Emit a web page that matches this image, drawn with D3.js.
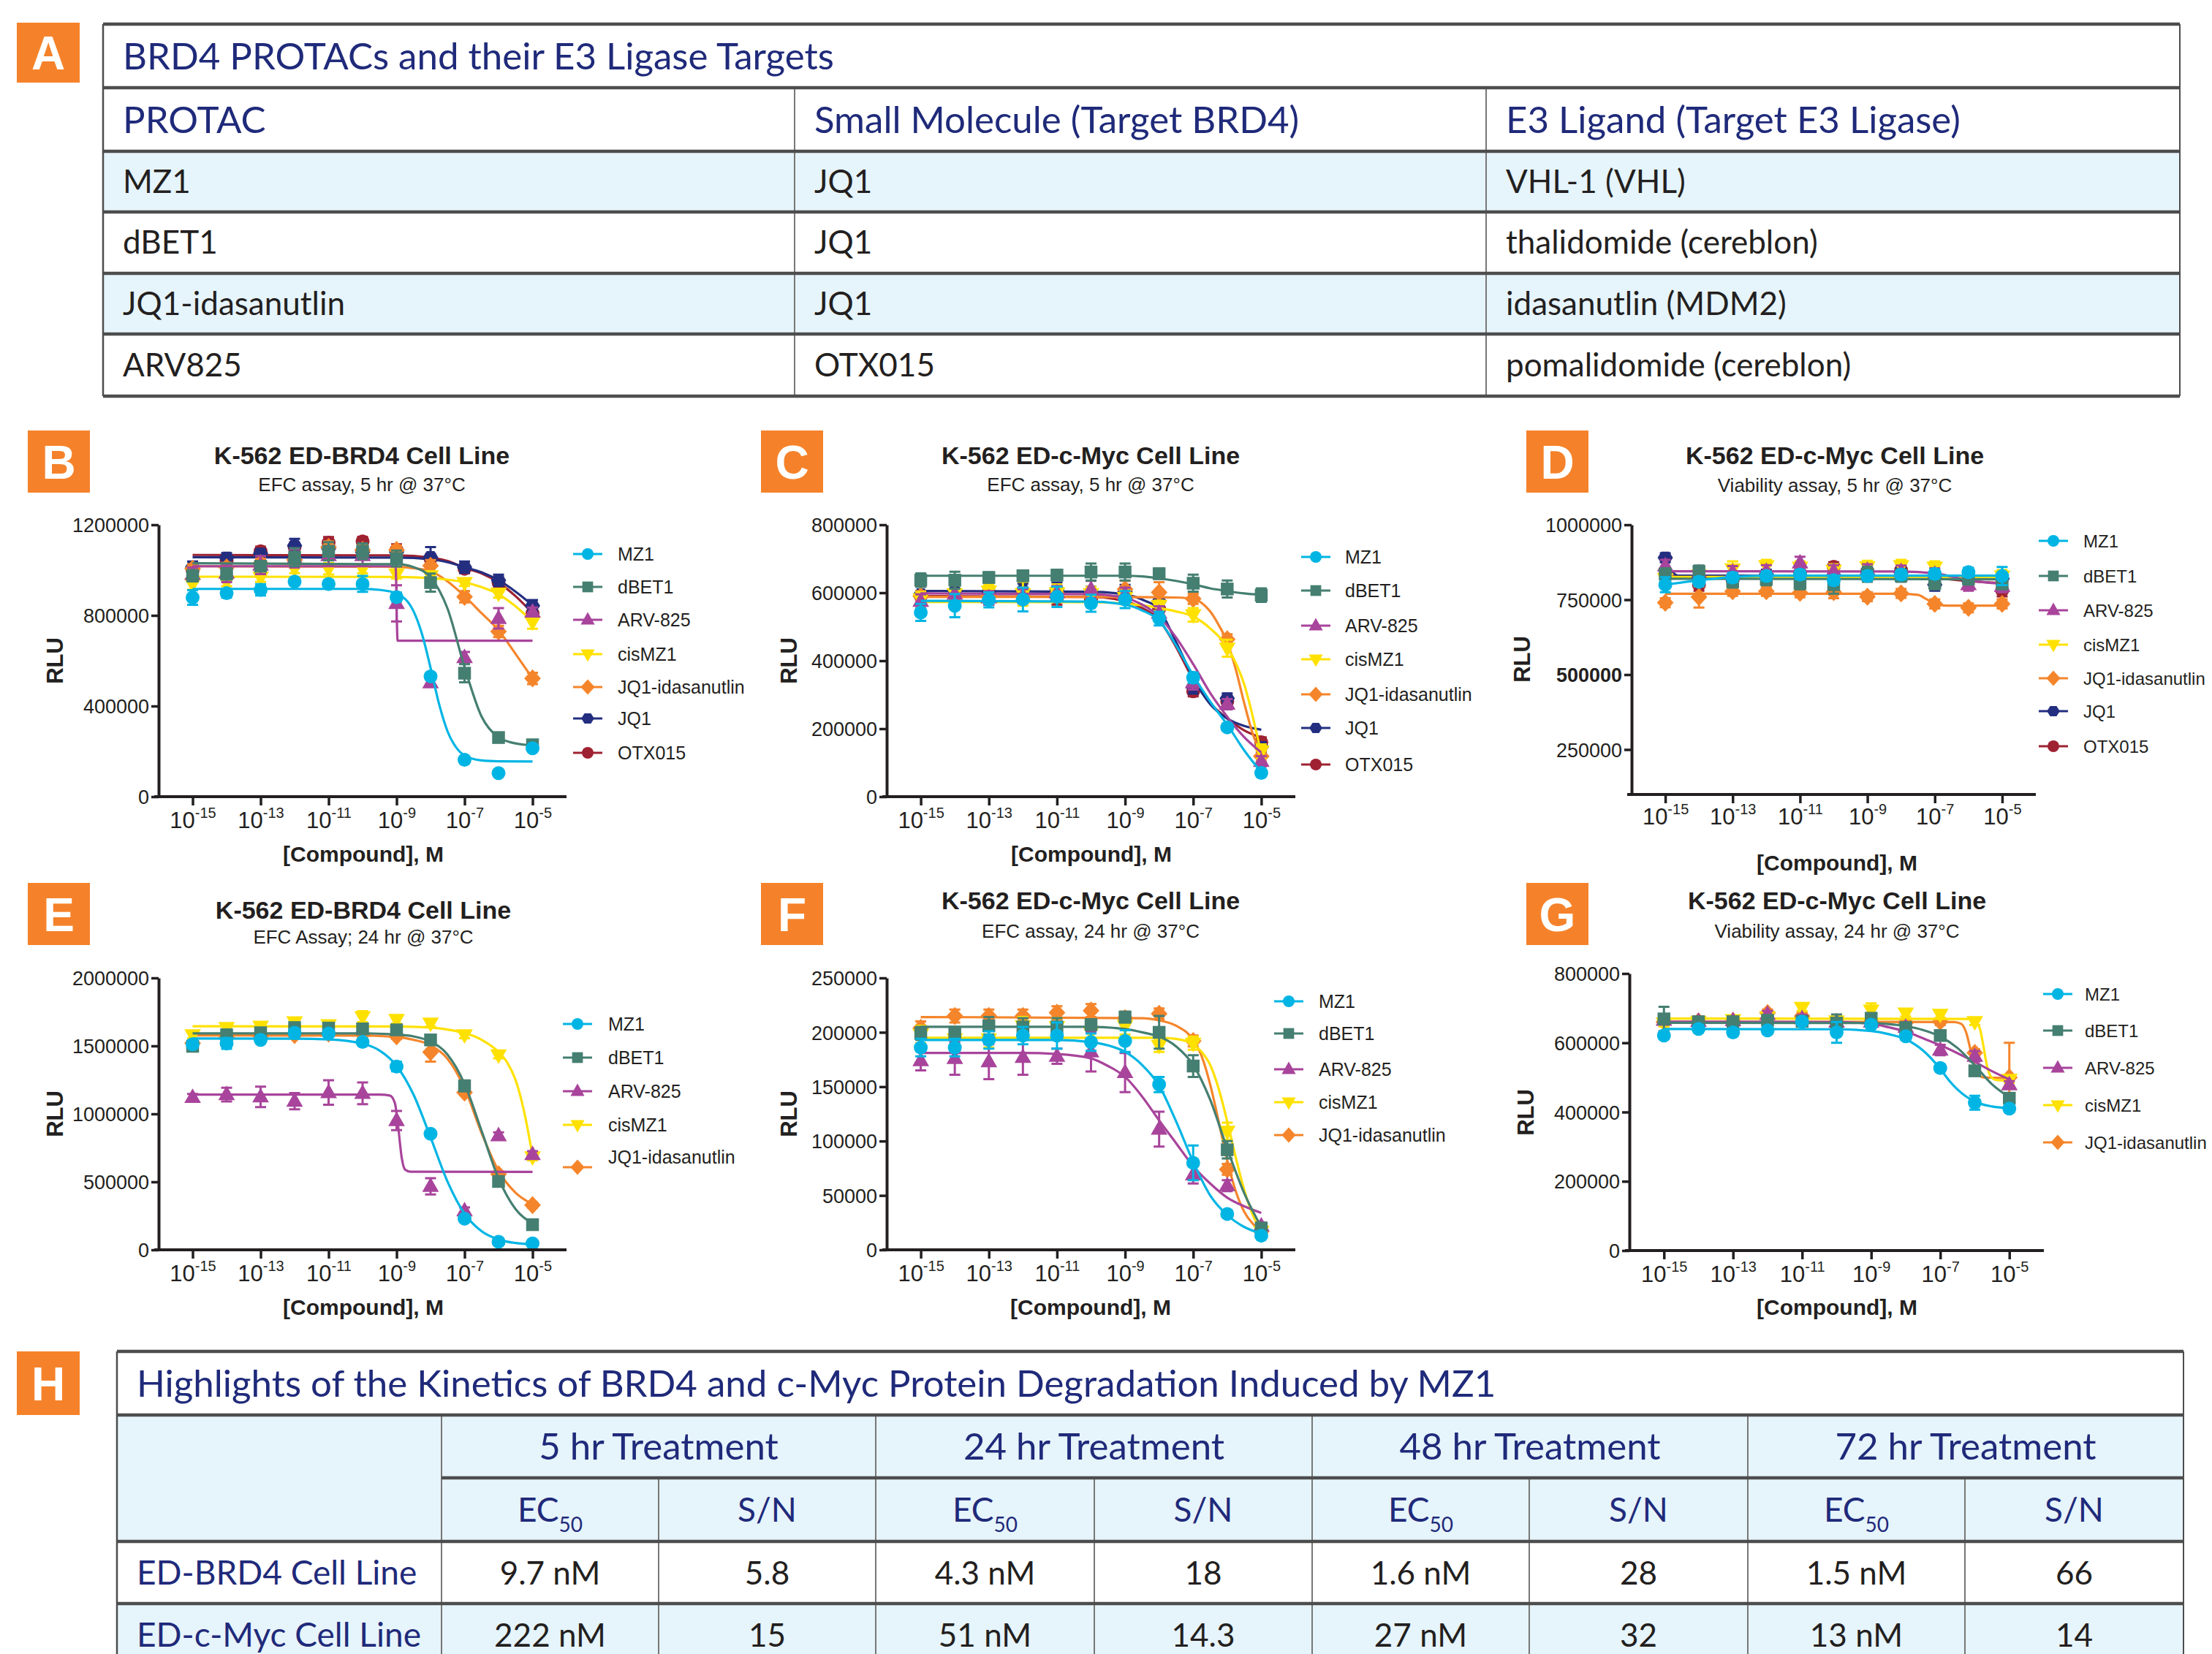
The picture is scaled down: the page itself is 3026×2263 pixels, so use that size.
<!DOCTYPE html>
<html>
<head>
<meta charset="utf-8">
<script src="https://cdn.jsdelivr.net/npm/d3@7"></script>
<style>
html,body{margin:0;padding:0;background:#fff;}
svg{display:block;}
</style>
</head>
<body>
<svg id="fig" width="3026" height="2263" xmlns="http://www.w3.org/2000/svg"></svg>
<script>
// ================= DATA =================
// concentrations as log10(M)
const logConc = [-15,-14,-13,-12,-11,-10,-9,-8,-7,-6,-5];
const xTickExps = [-15,-13,-11,-9,-7,-5];
const xTickSup = ["-15","-13","-11","-9","-7","-5"];

const seriesNames = ["MZ1","dBET1","ARV-825","cisMZ1","JQ1-idasanutlin","JQ1","OTX015"];
const seriesColors = ["#00b5e4","#457f71","#a8449b","#ffe100","#f5852b","#242e80","#9f2232"];
const seriesShapes = ["circle","square","triangle","triangleDown","diamond","hexagon","circle"];

// ---- Panel B : ED-BRD4, EFC, 5 hr (values in thousands RLU) ----
const bMean = [
  [879,898,913,949,939,939,881,531,163,104,214],
  [975,983,1017,1057,1083,1083,1051,945,545,261,229],
  [981,987,1022,1051,1064,1064,853,503,614,787,815],
  [939,949,968,1006,1006,1006,983,975,945,898,771],
  [1006,1012,1030,1045,1102,1089,1089,1019,882,729,522],
  [1013,1055,1073,1108,1095,1080,1080,1057,1013,955,843],
  [1000,1040,1083,1102,1121,1127,1089,1051,1006,945,809]
];
const bErr = [
  [32,20,25,15,15,35,20,15,10,5,10],
  [25,25,20,40,40,35,35,40,40,15,15],
  [30,40,40,40,40,40,80,15,25,45,20],
  [25,20,20,20,25,20,20,20,15,20,30],
  [20,20,20,20,25,20,20,25,25,25,25],
  [25,20,20,30,30,30,25,45,25,25,25],
  [20,20,20,20,25,20,25,20,20,25,25]
];
const bFit = [
  [[-15,917],[-10,917],[-9.5,913],[-9,897],[-8.5,818],[-8.25,717],[-8,569],[-7.75,409],[-7.5,288],[-7.25,218],[-7,182],[-6.5,160],[-6,156],[-5,155]],
  [[-15,1030],[-9,1026],[-8.5,1013],[-8,968],[-7.5,830],[-7,572],[-6.5,354],[-6,262],[-5.5,235],[-5,227]],
  [[-15,1017],[-9.03,1017],[-8.97,688],[-5,688]],
  [[-15,971],[-9,970],[-8,965],[-7.5,958],[-7,946],[-6.5,925],[-6,893],[-5.5,840],[-5,772]],
  [[-15,1017],[-9,1015],[-8.5,1008],[-8,995],[-7.5,950],[-7,885],[-6.5,810],[-6,735],[-5.5,630],[-5,522]],
  [[-15,1057],[-9,1055],[-8,1048],[-7.5,1035],[-7,1013],[-6.5,990],[-6,955],[-5.5,905],[-5,845]],
  [[-15,1067],[-9,1065],[-8,1055],[-7.5,1040],[-7,1010],[-6.5,985],[-6,945],[-5.5,885],[-5,810]]
];
const bTicks = [0,400,800,1200];
const bTickLabels = ["0","400000","800000","1200000"];

// ---- Panel C : ED-c-Myc, EFC, 5 hr ----
const cMean = [
  [542,562,579,580,588,569,580,524,350,204,70],
  [637,637,645,650,652,661,661,656,628,611,593],
  [575,596,585,590,600,610,595,540,335,272,104],
  [582,597,605,597,600,597,586,562,535,437,134],
  [590,588,592,595,598,590,610,601,582,463,119],
  [595,605,603,607,610,598,603,575,323,289,146],
  [590,593,585,590,585,580,590,552,310,280,160]
];
const cErr = [
  [25,34,22,35,30,25,25,20,15,10,10],
  [20,25,15,15,15,25,25,15,25,25,20],
  [20,35,20,20,20,25,20,20,20,15,15],
  [20,25,20,35,25,20,20,15,20,25,20],
  [15,15,20,20,20,20,25,30,15,15,15],
  [30,20,25,20,20,20,20,20,20,15,15],
  [15,15,20,20,20,20,20,20,15,15,15]
];
const cFit = [
  [[-15,576],[-10,574],[-9,565],[-8.5,548],[-8,518],[-7.5,445],[-7,357],[-6.5,280],[-6,212],[-5.5,136],[-5,72]],
  [[-15,650],[-9,650],[-8.5,648],[-8,642],[-7.5,635],[-7,625],[-6.5,613],[-6,605],[-5.5,598],[-5,594]],
  [[-15,598],[-10,596],[-9,585],[-8.5,565],[-8,530],[-7.5,468],[-7,390],[-6.5,305],[-6,235],[-5.5,175],[-5,130]],
  [[-15,573],[-10,572],[-9,568],[-8.5,563],[-8,555],[-7.5,545],[-7,530],[-6.5,495],[-6,440],[-5.5,330],[-5,125]],
  [[-15,588],[-8,587],[-7.5,586],[-7,582],[-6.75,570],[-6.5,545],[-6.25,505],[-6,455],[-5.75,375],[-5.5,275],[-5.25,185],[-5,125]],
  [[-15,605],[-10,603],[-9,595],[-8.5,580],[-8,550],[-7.5,455],[-7,350],[-6.5,272],[-6,230],[-5.5,208],[-5,197]],
  [[-15,590],[-10,588],[-9,575],[-8.5,555],[-8,520],[-7.5,440],[-7,345],[-6.5,275],[-6,230],[-5.5,195],[-5,174]]
];
const cTicks = [0,200,400,600,800];
const cTickLabels = ["0","200000","400000","600000","800000"];

// ---- Panel D : ED-c-Myc, viability, 5 hr ----
const dMean = [
  [800,810,824,829,834,815,829,834,836,842,829],
  [835,844,810,818,805,800,835,830,805,820,805],
  [863,840,842,845,873,845,848,844,835,800,795],
  [820,832,853,863,858,848,860,863,858,815,829],
  [740,759,778,778,773,775,760,771,736,723,736],
  [890,820,820,835,830,832,835,840,800,815,820],
  [835,800,815,830,840,860,845,848,830,815,781]
];
const dErr = [
  [25,15,15,15,15,15,15,15,15,15,30],
  [20,20,20,20,20,30,25,20,20,20,20],
  [20,20,20,20,20,20,20,20,20,20,20],
  [20,20,25,20,20,20,20,20,20,20,20],
  [15,35,15,15,15,20,15,15,15,15,15],
  [15,15,15,15,15,15,15,15,20,15,15],
  [15,20,15,15,15,15,15,15,15,15,20]
];
const dFit = [
  [[-15,800],[-14,815],[-13,826],[-12,830],[-5,830]],
  [[-15,820],[-5,818]],
  [[-15,845],[-8,844],[-7,838],[-6,815],[-5,803]],
  [[-15,826],[-5,826]],
  [[-15,770],[-8,770],[-7.5,766],[-7.25,752],[-7,737],[-6.75,731],[-6.5,730],[-5,730]],
  [[-15,890],[-14.8,845],[-14.6,830],[-5,829]],
  [[-15,829],[-8,829],[-7,822],[-6,812],[-5,805]]
];
const dTicks = [250,500,750,1000];
const dTickLabels = ["250000","500000","750000","1000000"];

// ---- Panel E : ED-BRD4, EFC, 24 hr ----
const eMean = [
  [1512,1518,1544,1597,1592,1529,1348,853,229,59,47],
  [1497,1582,1597,1635,1631,1625,1618,1544,1206,503,185],
  [1121,1142,1125,1093,1157,1151,951,467,287,839,701],
  [1582,1635,1645,1677,1656,1715,1694,1667,1582,1433,684],
  [1520,1560,1570,1580,1590,1588,1571,1454,1157,556,329]
];
const eErr = [
  [30,40,20,25,25,20,35,20,20,15,15],
  [25,25,25,30,30,30,30,25,40,30,30],
  [25,50,75,60,90,80,70,60,25,25,25],
  [25,25,25,25,25,40,30,25,25,25,25],
  [20,20,20,20,20,20,20,70,20,20,20]
];
const eFit = [
  [[-15,1554],[-12,1553],[-11,1548],[-10,1517],[-9.5,1466],[-9,1354],[-8.5,1141],[-8,827],[-7.5,501],[-7,266],[-6.5,137],[-6,76],[-5.5,50],[-5,40]],
  [[-15,1592],[-10,1592],[-9,1584],[-8.5,1570],[-8,1532],[-7.5,1436],[-7,1221],[-6.5,876],[-6,525],[-5.5,300],[-5,195]],
  [[-15,1142],[-9.5,1142],[-9.2,1135],[-9.05,1080],[-8.95,900],[-8.85,680],[-8.75,590],[-8.6,575],[-5,573]],
  [[-15,1645],[-9,1643],[-8,1635],[-7.5,1620],[-7,1595],[-6.5,1545],[-6,1455],[-5.75,1380],[-5.5,1250],[-5.25,1020],[-5,690]],
  [[-15,1577],[-10,1576],[-9,1565],[-8.5,1545],[-8,1505],[-7.5,1405],[-7,1190],[-6.5,860],[-6,580],[-5.5,420],[-5,335]]
];
const eTicks = [0,500,1000,1500,2000];
const eTickLabels = ["0","500000","1000000","1500000","2000000"];

// ---- Panel F : ED-c-Myc, EFC, 24 hr ----
const fMean = [
  [186,186,193,197,197,191,192,152,80,33,13],
  [199,199,206,205,205,207,214,200,169,92,20],
  [174,176,173,177,178,182,163,111,69,59,22],
  [198,194,194,206,205,200,206,188,190,109,17],
  [204,215,215,215,218,220,213,217,192,74,17]
];
const fErr = [
  [8,8,8,8,12,8,10,7,16,3,2],
  [6,6,8,8,8,5,5,15,10,8,3],
  [9,15,16,16,7,18,18,16,8,5,3],
  [8,8,8,8,8,8,8,6,6,8,3],
  [6,6,6,6,6,6,6,5,5,5,3]
];
const fFit = [
  [[-15,193],[-11,193],[-10,191],[-9.5,188],[-9,182],[-8.5,170],[-8,151],[-7.5,118],[-7,81],[-6.5,50],[-6,32],[-5.5,21],[-5,15]],
  [[-15,205],[-10,205],[-9,203],[-8.5,200],[-8,196],[-7.5,187],[-7,170],[-6.5,138],[-6,93],[-5.5,52],[-5,21]],
  [[-15,181],[-12,181],[-11,180],[-10,176],[-9.5,169],[-9,159],[-8.5,141],[-8,119],[-7.5,98],[-7,77],[-6.5,61],[-6,48],[-5.5,40],[-5,34]],
  [[-15,195],[-8,195],[-7.5,194],[-7,189],[-6.75,182],[-6.5,170],[-6.25,148],[-6,118],[-5.75,85],[-5.5,55],[-5.25,32],[-5,18]],
  [[-15,214],[-8.5,213],[-8,211],[-7.5,206],[-7,193],[-6.75,178],[-6.5,152],[-6.25,118],[-6,82],[-5.75,54],[-5.5,35],[-5.25,24],[-5,18]]
];
const fTicks = [0,50,100,150,200,250];
const fTickLabels = ["0","50000","100000","150000","200000","250000"];

// ---- Panel G : ED-c-Myc, viability, 24 hr ----
const gMean = [
  [621,640,630,636,661,630,652,619,527,427,410],
  [669,661,661,665,662,657,671,644,621,519,440],
  [665,662,664,682,670,660,660,645,579,561,479],
  [657,662,667,675,702,663,694,686,682,661,494],
  [660,662,663,686,677,660,660,658,661,571,500]
];
const gErr = [
  [10,10,10,10,10,30,10,10,10,20,10],
  [35,10,10,10,10,25,10,10,10,10,10],
  [10,10,10,10,10,10,10,10,15,15,10],
  [10,10,10,10,10,10,20,10,10,10,10],
  [10,10,10,10,10,10,10,10,10,10,100]
];
const gFit = [
  [[-15,640],[-10,639],[-9,634],[-8.5,625],[-8,610],[-7.5,578],[-7,525],[-6.75,492],[-6.5,465],[-6,430],[-5.5,416],[-5,411]],
  [[-15,658],[-9,657],[-8.5,654],[-8,648],[-7.5,637],[-7,618],[-6.5,585],[-6,535],[-5.5,480],[-5,443]],
  [[-15,661],[-10,660],[-9,655],[-8.5,645],[-8,632],[-7.5,613],[-7,593],[-6.5,570],[-6,545],[-5.5,518],[-5,494]],
  [[-15,670],[-6.2,669],[-6,664],[-5.85,640],[-5.75,590],[-5.65,535],[-5.55,505],[-5.4,493],[-5,490]],
  [[-15,661],[-6.6,660],[-6.4,655],[-6.25,630],[-6.1,570],[-6,535],[-5.9,510],[-5.75,500],[-5,498]]
];
const gTicks = [0,200,400,600,800];
const gTickLabels = ["0","200000","400000","600000","800000"];

// ---- Table A ----
const tableATitle = "BRD4 PROTACs and their E3 Ligase Targets";
const tableAHeaders = ["PROTAC","Small Molecule (Target BRD4)","E3 Ligand (Target E3 Ligase)"];
const tableARows = [
  ["MZ1","JQ1","VHL-1 (VHL)"],
  ["dBET1","JQ1","thalidomide (cereblon)"],
  ["JQ1-idasanutlin","JQ1","idasanutlin (MDM2)"],
  ["ARV825","OTX015","pomalidomide (cereblon)"]
];

// ---- Table H ----
const tableHTitle = "Highlights of the Kinetics of BRD4 and c-Myc Protein Degradation Induced by MZ1";
const hGroups = ["5 hr Treatment","24 hr Treatment","48 hr Treatment","72 hr Treatment"];
const hRowLabels = ["ED-BRD4 Cell Line","ED-c-Myc Cell Line"];
const hEC50 = [["9.7 nM","4.3 nM","1.6 nM","1.5 nM"],["222 nM","51 nM","27 nM","13 nM"]];
const hSN = [["5.8","18","28","66"],["15","14.3","32","14"]];

// ================= DRAWING =================
const svg = d3.select("#fig");
const FONT = "'Liberation Sans', Arial, Helvetica, sans-serif";
const TFONT = "Lato, 'Noto Sans', sans-serif";
const NAVY = "#1f2a7a";
const ORANGE = "#f5822a";
const LIGHT = "#e6f4fb";
const INK = "#231f20";
const RULE = "#4d4d4d";

svg.append("rect").attr("width",3026).attr("height",2263).attr("fill","#fff");

function markerPath(shape, r) {
  if (shape === "circle") return d3.symbol(d3.symbolCircle, Math.PI*r*r)();
  if (shape === "square") { const s = r*0.92; return `M${-s},${-s}H${s}V${s}H${-s}Z`; }
  if (shape === "triangle") return `M0,${-r*1.3}L${r*1.2},${r*0.8}L${-r*1.2},${r*0.8}Z`;
  if (shape === "triangleDown") return `M0,${r*1.3}L${r*1.2},${-r*0.8}L${-r*1.2},${-r*0.8}Z`;
  if (shape === "diamond") return `M0,${-r*1.3}L${r*1.2},0L0,${r*1.3}L${-r*1.2},0Z`;
  if (shape === "hexagon") {
    const pts = d3.range(6).map(k => [r*1.1*Math.cos(k*Math.PI/3), r*1.0*Math.sin(k*Math.PI/3)]);
    return "M" + pts.map(p => p.join(",")).join("L") + "Z";
  }
}

function labelBox(x, y, w, h, letter, size, dy) {
  svg.append("rect").attr("x",x).attr("y",y).attr("width",w).attr("height",h).attr("fill",ORANGE);
  svg.append("text").attr("x",x+w/2).attr("y",y+h/2+dy).attr("text-anchor","middle")
    .attr("font-family",FONT).attr("font-weight","bold").attr("font-size",size).attr("fill","#fff").text(letter);
}

function drawPanel(p) {
  const g = svg.append("g");
  labelBox(p.box[0], p.box[1], 85, 85, p.letter, 64, 23);
  g.append("text").attr("x",p.titleX).attr("y",p.titleY).attr("text-anchor","middle")
    .attr("font-family",FONT).attr("font-weight","bold").attr("font-size",34).attr("fill",INK).text(p.title);
  g.append("text").attr("x",p.titleX).attr("y",p.subY).attr("text-anchor","middle")
    .attr("font-family",FONT).attr("font-size",26).attr("fill",INK).text(p.subtitle);

  const x = d3.scaleLinear().domain([-16,-4]).range([p.left,p.right]);
  const y = d3.scaleLinear().domain(p.yDomain).range([p.bottom,p.top]);

  // series (drawn last-to-first so the first series ends on top)
  const line = d3.line().x(d => x(d[0])).y(d => y(d[1])).curve(d3.curveMonotoneX);
  const idx = d3.range(p.mean.length).reverse();
  idx.forEach(i => {
    const col = seriesColors[i];
    const sg = g.append("g");
    sg.append("path").attr("d", line(p.fit[i])).attr("fill","none")
      .attr("stroke",col).attr("stroke-width",3.2);
    const pts = logConc.map((c,j) => ({c, v:p.mean[i][j], e:p.err[i][j]}));
    sg.selectAll(null).data(pts).join("path")
      .attr("d", d => {
        const x0 = x(d.c), y0 = y(d.v - d.e), y1 = y(d.v + d.e);
        return `M${x0},${y0}V${y1}M${x0-7.5},${y0}h15M${x0-7.5},${y1}h15`;
      })
      .attr("stroke",col).attr("stroke-width",3).attr("fill","none");
    sg.selectAll(null).data(pts).join("path")
      .attr("transform", d => `translate(${x(d.c)},${y(d.v)})`)
      .attr("d", markerPath(seriesShapes[i], 9.5)).attr("fill", col);
  });

  // x axis
  const xa = g.append("g").attr("transform",`translate(0,${p.bottom})`)
    .call(d3.axisBottom(x).tickValues(xTickExps).tickSize(12).tickSizeOuter(0).tickFormat(""));
  xa.select(".domain").attr("stroke",INK).attr("stroke-width",4).attr("d",`M${p.left-6},0H${p.right}`);
  xa.selectAll(".tick line").attr("stroke",INK).attr("stroke-width",3.5);
  xa.selectAll(".tick text").remove();
  xa.selectAll(".tick").each(function(d,i){
    const t = d3.select(this).append("text").attr("y", p.xLabelY - p.bottom)
      .attr("text-anchor","middle").attr("font-family",FONT).attr("font-size",31).attr("fill",INK);
    t.append("tspan").text("10");
    t.append("tspan").attr("dy",-14).attr("font-size",20).text(xTickSup[i]);
  });

  // y axis
  const ya = g.append("g").attr("transform",`translate(${p.left},0)`)
    .call(d3.axisLeft(y).tickValues(p.yTicks).tickSize(10).tickSizeOuter(0)
      .tickFormat((d,i) => p.yTickLabels[i]));
  ya.select(".domain").attr("stroke",INK).attr("stroke-width",4);
  ya.selectAll(".tick line").attr("stroke",INK).attr("stroke-width",3.5);
  ya.selectAll(".tick text").attr("font-family",FONT).attr("font-size",27).attr("fill",INK)
    .attr("x",-13).attr("dy","0.36em")
    .attr("font-weight",(d,i) => (p.boldTick === i ? "bold" : null));

  // axis titles
  g.append("text").attr("transform",`translate(${p.rluX},${p.rluY}) rotate(-90)`)
    .attr("text-anchor","middle").attr("dy","0.36em").attr("font-family",FONT)
    .attr("font-weight","bold").attr("font-size",31).attr("fill",INK).text("RLU");
  g.append("text").attr("x",p.xTitleX).attr("y",p.xTitleY).attr("text-anchor","middle")
    .attr("font-family",FONT).attr("font-weight","bold").attr("font-size",30).attr("fill",INK)
    .text("[Compound], M");

  // legend
  const legFont = p.legFont || 25;
  p.legYs.forEach((ly,i) => {
    const col = seriesColors[i];
    g.append("line").attr("x1",p.legX-20).attr("x2",p.legX+20).attr("y1",ly).attr("y2",ly)
      .attr("stroke",col).attr("stroke-width",3);
    g.append("path").attr("transform",`translate(${p.legX},${ly})`)
      .attr("d", markerPath(seriesShapes[i], 8)).attr("fill",col);
    g.append("text").attr("x",p.legTextX).attr("y", ly + 9 + (p.legTextDy ? p.legTextDy[i] : 0))
      .attr("font-family",FONT).attr("font-size",legFont).attr("fill",INK).text(seriesNames[i]);
  });
}

drawPanel({letter:"B", box:[38,589], title:"K-562 ED-BRD4 Cell Line", subtitle:"EFC assay, 5 hr @ 37°C",
  titleX:495, titleY:635, subY:672, left:217, right:775, top:718, bottom:1090, yDomain:[0,1200],
  yTicks:bTicks, yTickLabels:bTickLabels, mean:bMean, err:bErr, fit:bFit,
  xLabelY:1133, xTitleY:1179, xTitleX:497, rluX:75, rluY:904,
  legX:804, legTextX:845, legYs:[758,803,848,895,940,983,1030]});

drawPanel({letter:"C", box:[1041,589], title:"K-562 ED-c-Myc Cell Line", subtitle:"EFC assay, 5 hr @ 37°C",
  titleX:1492, titleY:635, subY:672, left:1213, right:1772, top:718, bottom:1090, yDomain:[0,800],
  yTicks:cTicks, yTickLabels:cTickLabels, mean:cMean, err:cErr, fit:cFit,
  xLabelY:1133, xTitleY:1179, xTitleX:1493, rluX:1079, rluY:904,
  legX:1800, legTextX:1840, legYs:[762,808,856,902,950,996,1046]});

drawPanel({letter:"D", box:[2088,589], title:"K-562 ED-c-Myc Cell Line", subtitle:"Viability assay, 5 hr @ 37°C",
  titleX:2510, titleY:635, subY:673, left:2232, right:2785, top:718, bottom:1087, yDomain:[100,1000],
  yTicks:dTicks, yTickLabels:dTickLabels, boldTick:1, mean:dMean, err:dErr, fit:dFit,
  xLabelY:1128, xTitleY:1191, xTitleX:2513, rluX:2082, rluY:902, legFont:24,
  legX:2809, legTextX:2850, legYs:[740,788,835,882,928,973,1021]});

drawPanel({letter:"E", box:[38,1208], title:"K-562 ED-BRD4 Cell Line", subtitle:"EFC Assay; 24 hr @ 37°C",
  titleX:497, titleY:1257, subY:1291, left:217, right:775, top:1338, bottom:1710, yDomain:[0,2000],
  yTicks:eTicks, yTickLabels:eTickLabels, mean:eMean, err:eErr, fit:eFit,
  xLabelY:1753, xTitleY:1799, xTitleX:497, rluX:75, rluY:1524,
  legX:790, legTextX:832, legYs:[1401,1447,1493,1539,1597], legTextDy:[0,0,0,0,-14]});

drawPanel({letter:"F", box:[1041,1208], title:"K-562 ED-c-Myc Cell Line", subtitle:"EFC assay, 24 hr @ 37°C",
  titleX:1492, titleY:1244, subY:1283, left:1213, right:1772, top:1338, bottom:1710, yDomain:[0,250],
  yTicks:fTicks, yTickLabels:fTickLabels, mean:fMean, err:fErr, fit:fFit,
  xLabelY:1753, xTitleY:1799, xTitleX:1492, rluX:1079, rluY:1524,
  legX:1763, legTextX:1804, legYs:[1370,1414,1463,1508,1553]});

drawPanel({letter:"G", box:[2088,1208], title:"K-562 ED-c-Myc Cell Line", subtitle:"Viability assay, 24 hr @ 37°C",
  titleX:2513, titleY:1244, subY:1283, left:2229, right:2796, top:1332, bottom:1711, yDomain:[0,800],
  yTicks:gTicks, yTickLabels:gTickLabels, mean:gMean, err:gErr, fit:gFit,
  xLabelY:1754, xTitleY:1799, xTitleX:2513, rluX:2087, rluY:1522, legFont:24,
  legX:2815, legTextX:2852, legYs:[1360,1410,1461,1512,1563]});

// ---------- Table A ----------
(function(){
  const X = [141, 1087, 2033, 2982];
  const Y = [33, 120, 207, 290, 374, 457, 542];
  const g = svg.append("g");
  [0,2].forEach(r => g.append("rect").attr("x",X[0]).attr("y",Y[r+2]).attr("width",X[3]-X[0])
    .attr("height",Y[r+3]-Y[r+2]).attr("fill",LIGHT));
  g.append("line").attr("x1",X[0]).attr("x2",X[0]).attr("y1",Y[0]).attr("y2",Y[6]).attr("stroke",RULE).attr("stroke-width",2.5);
  g.append("line").attr("x1",X[3]).attr("x2",X[3]).attr("y1",Y[0]).attr("y2",Y[6]).attr("stroke",RULE).attr("stroke-width",2);
  [1,2].forEach(c => g.append("line").attr("x1",X[c]).attr("x2",X[c]).attr("y1",Y[1]).attr("y2",Y[6])
    .attr("stroke","#777").attr("stroke-width",2));
  Y.forEach(yy => g.append("line").attr("x1",X[0]).attr("x2",X[3]).attr("y1",yy).attr("y2",yy)
    .attr("stroke",RULE).attr("stroke-width",4.5));
  const tx = c => X[c] + 27;
  g.append("text").attr("x",tx(0)).attr("y",(Y[0]+Y[1])/2+18).attr("font-family",TFONT)
    .attr("font-size",51).attr("fill",NAVY).text(tableATitle);
  tableAHeaders.forEach((h,c) => g.append("text").attr("x",tx(c)).attr("y",(Y[1]+Y[2])/2+18)
    .attr("font-family",TFONT).attr("font-size",51).attr("fill",NAVY).text(h));
  tableARows.forEach((row,r) => row.forEach((cell,c) => g.append("text").attr("x",tx(c))
    .attr("y",(Y[r+2]+Y[r+3])/2+15).attr("font-family",TFONT).attr("font-size",44).attr("fill",INK).text(cell)));
  labelBox(23, 31, 86, 82, "A", 64, 23);
})();

// ---------- Table H ----------
(function(){
  const X = [160, 604, 901, 1198, 1497, 1795, 2092, 2391, 2688, 2987];
  const Y = [1849, 1936, 2022, 2109, 2194, 2280];
  const g = svg.append("g");
  g.append("rect").attr("x",X[0]).attr("y",Y[1]).attr("width",X[9]-X[0]).attr("height",Y[3]-Y[1]).attr("fill",LIGHT);
  g.append("rect").attr("x",X[0]).attr("y",Y[4]).attr("width",X[9]-X[0]).attr("height",Y[5]-Y[4]).attr("fill",LIGHT);
  g.append("line").attr("x1",X[0]).attr("x2",X[0]).attr("y1",Y[0]).attr("y2",Y[5]).attr("stroke",RULE).attr("stroke-width",2.5);
  g.append("line").attr("x1",X[9]).attr("x2",X[9]).attr("y1",Y[0]).attr("y2",Y[5]).attr("stroke",RULE).attr("stroke-width",2);
  [1,3,5,7].forEach(c => g.append("line").attr("x1",X[c]).attr("x2",X[c]).attr("y1",Y[1]).attr("y2",Y[5])
    .attr("stroke","#777").attr("stroke-width",2));
  [2,4,6,8].forEach(c => g.append("line").attr("x1",X[c]).attr("x2",X[c]).attr("y1",Y[2]).attr("y2",Y[5])
    .attr("stroke","#777").attr("stroke-width",2));
  [[0,0],[1,0],[2,1],[3,0],[4,0]].forEach(([r,c]) => g.append("line").attr("x1",X[c]).attr("x2",X[9])
    .attr("y1",Y[r]).attr("y2",Y[r]).attr("stroke",RULE).attr("stroke-width",4.5));
  g.append("text").attr("x",187).attr("y",(Y[0]+Y[1])/2+18).attr("font-family",TFONT)
    .attr("font-size",51).attr("fill",NAVY).text(tableHTitle);
  hGroups.forEach((h,k) => g.append("text").attr("x",(X[1+2*k]+X[3+2*k])/2).attr("y",(Y[1]+Y[2])/2+18)
    .attr("text-anchor","middle").attr("font-family",TFONT).attr("font-size",51).attr("fill",NAVY).text(h));
  hGroups.forEach((h,k) => {
    const t = g.append("text").attr("x",(X[1+2*k]+X[2+2*k])/2).attr("y",(Y[2]+Y[3])/2+16)
      .attr("text-anchor","middle").attr("font-family",TFONT).attr("font-size",46).attr("fill",NAVY);
    t.append("tspan").text("EC");
    t.append("tspan").attr("dy",14).attr("font-size",28).text("50");
    g.append("text").attr("x",(X[2+2*k]+X[3+2*k])/2).attr("y",(Y[2]+Y[3])/2+16)
      .attr("text-anchor","middle").attr("font-family",TFONT).attr("font-size",46).attr("fill",NAVY).text("S/N");
  });
  hRowLabels.forEach((lab,r) => {
    const yy = (Y[3+r]+Y[4+r])/2+16;
    g.append("text").attr("x",187).attr("y",yy).attr("font-family",TFONT).attr("font-size",46)
      .attr("fill",NAVY).text(lab);
    hEC50[r].forEach((v,k) => g.append("text").attr("x",(X[1+2*k]+X[2+2*k])/2).attr("y",yy)
      .attr("text-anchor","middle").attr("font-family",TFONT).attr("font-size",44).attr("fill",INK).text(v));
    hSN[r].forEach((v,k) => g.append("text").attr("x",(X[2+2*k]+X[3+2*k])/2).attr("y",yy)
      .attr("text-anchor","middle").attr("font-family",TFONT).attr("font-size",44).attr("fill",INK).text(v));
  });
  labelBox(23, 1849, 86, 87, "H", 64, 23);
})();
</script>
</body>
</html>
